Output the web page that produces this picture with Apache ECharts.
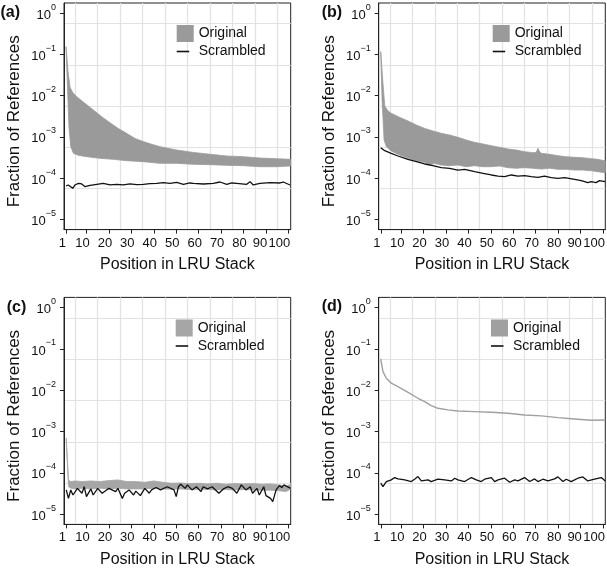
<!DOCTYPE html>
<html><head><meta charset="utf-8">
<script src="https://cdn.jsdelivr.net/npm/echarts@6/dist/echarts.min.js"></script>
<style>html,body{margin:0;padding:0;background:#fff}#c{width:607px;height:568px}</style>
</head><body><div id="c"></div>
<script>
// ---- tick / grid values ----
const xTickValues = [1,10,20,30,40,50,60,70,80,90,100];
const xGridValues = [5,15,25,35,45,55,65,75,85,95];
const yTickValues = [1e-5,1e-4,1e-3,1e-2,1e-1,1];
const yGridValues = [5.623e-5,5.623e-4,5.623e-3,5.623e-2,0.5623];
const panelLabels = ['(a)','(b)','(c)','(d)'];
const seriesNames = ['Original','Scrambled'];
const xTitle = 'Position in LRU Stack';
const yTitle = 'Fraction of References';

// ---- panel (a) ----
const aOrigUpper = [[0.9,0.155],[1.8,0.0383],[2.7,0.016],[3.9,0.0119],[5.6,0.0095],[9.4,0.0065],[13.1,0.0045],[16.8,0.0031],[20.5,0.0022],[24.2,0.0016],[27.9,0.00122],[31.6,9.2e-4],[35.3,7.7e-4],[39.1,6.6e-4],[42.8,5.8e-4],[50.2,4.8e-4],[57.6,4.2e-4],[65,3.8e-4],[72.5,3.44e-4],[79.9,3.31e-4],[87.3,3.07e-4],[94.7,2.96e-4],[100.9,2.85e-4]];
const aOrigLower = [[0.9,0.155],[1.5,0.02],[2.2,1.77e-3],[3.0,5.8e-4],[4.2,4.0e-4],[6.4,3.57e-4],[10.1,3.31e-4],[16,3.02e-4],[22,2.85e-4],[27.9,2.65e-4],[35.3,2.51e-4],[42.8,2.28e-4],[50.2,2.28e-4],[57.6,2.16e-4],[65,2.12e-4],[72.5,2.04e-4],[79.9,2.0e-4],[87.3,1.89e-4],[94.7,1.89e-4],[100.9,1.97e-4]];
const aScrambled = [[0.9,6.43e-5],[1.9,6.81e-5],[2.7,6.19e-5],[3.9,5.65e-5],[4.9,6.81e-5],[6.4,7.47e-5],[7.9,7.2e-5],[9.4,6.19e-5],[11.6,6.68e-5],[14.6,7.07e-5],[17.5,7.47e-5],[20.5,6.81e-5],[23.5,7.07e-5],[26.4,6.81e-5],[29.4,7.2e-5],[32.4,6.94e-5],[35.3,7.07e-5],[38.3,7.33e-5],[41.3,7.47e-5],[44.3,7.75e-5],[47.2,7.47e-5],[50.2,7.89e-5],[53.2,7.07e-5],[56.1,7.61e-5],[57.6,7.47e-5],[62.1,7.2e-5],[66.5,7.47e-5],[69.5,8.04e-5],[72.5,7.07e-5],[74.7,7.61e-5],[76.9,7.47e-5],[81.4,7.07e-5],[82.9,8.19e-5],[84.3,6.81e-5],[87.3,7.47e-5],[91.8,7.75e-5],[96.2,7.61e-5],[97.7,8.04e-5],[100.7,6.81e-5]];

// ---- panel (b) ----
const bOrigUpper = [[0.9,0.117],[1.9,0.020],[2.7,5.62e-3],[4.1,4.33e-3],[5.6,3.73e-3],[9.3,2.99e-3],[13.1,2.43e-3],[16.8,1.94e-3],[20.5,1.61e-3],[24.2,1.39e-3],[27.9,1.22e-3],[31.6,1.11e-3],[35.3,9.77e-4],[39,8.41e-4],[42.7,7.38e-4],[46.5,6.73e-4],[50.2,6.12e-4],[53.9,5.58e-4],[57.6,5.08e-4],[61.3,4.81e-4],[65,4.38e-4],[68.7,4.14e-4],[70.2,4.2e-4],[71,5.3e-4],[71.8,4.3e-4],[72.5,3.99e-4],[76.2,3.78e-4],[79.9,3.5e-4],[83.6,3.31e-4],[87.3,3.19e-4],[91,3.13e-4],[94.7,2.96e-4],[97.7,2.85e-4],[101,2.6e-4]];
const bOrigLower = [[0.9,0.117],[1.5,7.86e-3],[2.4,8.41e-4],[3.4,5.79e-4],[5.6,4.55e-4],[9.3,3.64e-4],[13.1,3.02e-4],[16.8,2.65e-4],[20.5,2.41e-4],[22.7,2.08e-4],[24.9,2.28e-4],[27.9,2.08e-4],[31.6,2.0e-4],[35.3,2.08e-4],[39,1.89e-4],[42.7,2.0e-4],[46.5,1.89e-4],[50.2,1.89e-4],[53.9,1.97e-4],[57.6,1.79e-4],[61.3,1.73e-4],[65,1.79e-4],[68.7,1.73e-4],[72.5,1.66e-4],[76.2,1.73e-4],[79.9,1.63e-4],[83.6,1.63e-4],[87.3,1.57e-4],[91,1.57e-4],[94.7,1.51e-4],[97.7,1.43e-4],[101,1.35e-4]];
const bScrambled = [[0.9,5.48e-4],[2.7,4.63e-4],[5.6,3.99e-4],[8.6,3.44e-4],[13,2.85e-4],[16.8,2.51e-4],[20.5,2.2e-4],[24.2,2.0e-4],[27.9,1.79e-4],[31.6,1.73e-4],[35.3,1.57e-4],[38.3,1.63e-4],[42.8,1.43e-4],[46.5,1.31e-4],[50.2,1.19e-4],[53.2,1.12e-4],[56.1,1.08e-4],[59.1,1.19e-4],[62.1,1.12e-4],[65,1.15e-4],[68,1.08e-4],[71,1.04e-4],[73.9,1.12e-4],[76.9,1.03e-4],[79.9,9.87e-5],[82.9,1.03e-4],[87.3,9.33e-5],[90.3,8.66e-5],[93.2,7.75e-5],[94.7,8.19e-5],[96.9,7.75e-5],[98.4,8.66e-5],[100.9,8.19e-5]];

// ---- panel (c) ----
const cOrigUpper = [[1,7.0e-4],[2,6.73e-5],[3,6.14e-5],[5,6.37e-5],[8,6.14e-5],[12,6.37e-5],[16,6.14e-5],[20,6.48e-5],[24,6.73e-5],[28,6.14e-5],[32,6.14e-5],[36,5.91e-5],[40,6.37e-5],[44,5.91e-5],[48,5.59e-5],[52,5.69e-5],[56,5.48e-5],[60,5.59e-5],[64,5.38e-5],[68,5.59e-5],[72,5.28e-5],[76,5.48e-5],[80,5.38e-5],[84,5.48e-5],[88,5.28e-5],[92,5.38e-5],[96,5.09e-5],[99,4.64e-5],[101,5.28e-5]];
const cOrigLower = [[1,5.7e-4],[2,4.64e-5],[3,4.23e-5],[5,4.07e-5],[8,4.23e-5],[12,4.07e-5],[16,4.23e-5],[20,4.07e-5],[24,4.23e-5],[28,4.07e-5],[32,4.07e-5],[36,4.07e-5],[40,4.23e-5],[44,4.07e-5],[48,4.0e-5],[52,4.07e-5],[56,3.93e-5],[60,4.0e-5],[64,3.93e-5],[68,3.85e-5],[72,3.93e-5],[76,3.85e-5],[80,3.93e-5],[84,3.85e-5],[88,3.78e-5],[92,3.78e-5],[96,3.65e-5],[99,3.51e-5],[101,4.07e-5]];
const cScrambled = [[1,3.85e-5],[2,2.4e-5],[3,3.85e-5],[4,2.9e-5],[6,4.2e-5],[8,3.2e-5],[9,4.6e-5],[10,2.65e-5],[12,4.07e-5],[13,2.9e-5],[15,4.2e-5],[17,3.2e-5],[19,3.85e-5],[20,4.2e-5],[23,3.5e-5],[24,4.2e-5],[26,2.4e-5],[27,3.2e-5],[29,3.85e-5],[31,2.9e-5],[32,3.6e-5],[34,2.8e-5],[36,4.2e-5],[38,3.2e-5],[39,3.85e-5],[41,4.4e-5],[43,3.85e-5],[46,4.6e-5],[49,3.85e-5],[50,2.65e-5],[51,4.6e-5],[52,5.3e-5],[54,4.2e-5],[55,5.1e-5],[57,3.85e-5],[59,4.6e-5],[61,3.5e-5],[62,4.6e-5],[64,4.07e-5],[66,4.6e-5],[69,3.2e-5],[71,4.07e-5],[73,4.6e-5],[75,4.2e-5],[77,3.2e-5],[79,5.1e-5],[81,3.85e-5],[83,4.6e-5],[84,3.2e-5],[86,4.2e-5],[87,2.9e-5],[89,4.6e-5],[90,2.8e-5],[92,2.4e-5],[93,2.0e-5],[94.5,3.85e-5],[96,4.9e-5],[97,4.4e-5],[98,5.1e-5],[101,4.2e-5]];

// ---- panel (d) ----
const dOriginal = [[0.9,0.0573],[1.9,0.0283],[3.4,0.0195],[5.6,0.0148],[8.6,0.01225],[13.1,0.00893],[17.5,0.0064],[20.5,0.0053],[23.4,0.00425],[26.4,0.00366],[30.9,0.00334],[35.3,0.00315],[42.7,0.00304],[50.2,0.00293],[57.6,0.00277],[65,0.00252],[72.5,0.00239],[79.9,0.00217],[87.3,0.00202],[94.7,0.00188],[101,0.0019]];
const dScrambled = [[0.9,5.59e-5],[1.9,4.64e-5],[3.4,6.14e-5],[5.6,6.73e-5],[7.1,7.67e-5],[8.6,7.12e-5],[11.6,6.73e-5],[14.5,6.14e-5],[16,6.99e-5],[17.5,8.1e-5],[19,6.37e-5],[22,6.73e-5],[23.4,6.14e-5],[26.4,6.99e-5],[29.4,6.73e-5],[32.4,6.37e-5],[33.9,7.39e-5],[35.3,6.73e-5],[38.3,6.14e-5],[41.3,7.67e-5],[43.5,6.73e-5],[45.7,6.14e-5],[47.2,6.99e-5],[50.2,7.67e-5],[51.7,6.14e-5],[53.2,6.73e-5],[56.1,7.39e-5],[58.4,5.91e-5],[60.6,6.73e-5],[62.1,6.37e-5],[65,7.67e-5],[67.3,6.14e-5],[69.5,7.12e-5],[71,6.14e-5],[73.2,6.99e-5],[75.4,6.37e-5],[78.4,7.12e-5],[79.9,7.96e-5],[82.1,6.14e-5],[83.6,6.99e-5],[85.8,6.14e-5],[87.3,6.73e-5],[88.8,7.39e-5],[91,7.96e-5],[93.2,6.37e-5],[96.2,6.99e-5],[99.2,7.67e-5],[101,6.37e-5]];

// ---- layout & style ----
const REG = '"Liberation Sans", Arial, Helvetica, sans-serif';
const NARROW = '"Liberation Sans Narrow", "Arial Narrow", "Liberation Sans", sans-serif';
const INK = '#111';
const grids = [
  {left:64, top:3, width:226.7, height:226.6},
  {left:378.7, top:3, width:226.6, height:226.6},
  {left:64, top:297.4, width:226.7, height:227},
  {left:378.7, top:297.4, width:226.6, height:227}
];
const legendPos = [[176.7,25],[492.7,25],[175.7,319.5],[491,319.5]];
const bandColors = ['#9a9a9a','#9a9a9a','#a6a6a6','#a0a0a0'];
const labelPos = [[0.5,12.5],[321.7,13],[6.7,307.5],[321.7,307]];

const panels = [
  {upper:aOrigUpper, lower:aOrigLower, scr:aScrambled},
  {upper:bOrigUpper, lower:bOrigLower, scr:bScrambled},
  {upper:cOrigUpper, lower:cOrigLower, scr:cScrambled},
  {line:dOriginal, scr:dScrambled}
];

const Y_MIN = Math.pow(10,-5.25), Y_MAX = Math.pow(10,0.25);

function supLabel(v){
  const e = Math.round(Math.log10(v));
  return '{b|10}{s|' + (e < 0 ? '\u2212' + (-e) : String(e)) + '}';
}
function xLabel(v){
  const key = v === 100 ? 't100' : (v === 90 ? 't90' : 't');
  return '{' + key + '|' + v + '}';
}
const xRich = {
  t:{fontSize:13, fontFamily:NARROW, color:INK, padding:[0,8,0,0]},
  t90:{fontSize:13, fontFamily:NARROW, color:INK, padding:[0,12,0,0]},
  t100:{fontSize:13, fontFamily:NARROW, color:INK, padding:[0,18,0,0]}
};
const yRich = {
  b:{fontSize:13, fontFamily:REG, color:INK, padding:[4,0,0,0]},
  s:{fontSize:9, fontFamily:REG, color:INK, padding:[0,0,12,0]}
};

const xAxes = [], yAxes = [], series = [], legends = [], graphics = [];
grids.forEach((g, i) => {
  xAxes.push({
    type:'value', gridIndex:i, min:0, max:101, position:'bottom',
    name:xTitle, nameLocation:'middle', nameGap:27, nameMoveOverlap:false,
    nameTextStyle:{fontSize:16, fontFamily:REG, color:INK},
    axisLine:{show:true, lineStyle:{color:'#222', width:1}},
    axisTick:{show:true, length:4, customValues:xTickValues, lineStyle:{color:'#222'}},
    axisLabel:{show:true, customValues:xTickValues, margin:7, formatter:xLabel, rich:xRich},
    splitLine:{show:false}
  });
  xAxes.push({
    type:'value', gridIndex:i, min:0, max:101, position:'bottom',
    axisLine:{show:false}, axisTick:{show:false, customValues:xGridValues},
    axisLabel:{show:false}, splitLine:{show:true, lineStyle:{color:'#e2e2e2', width:1.2}}
  });
  yAxes.push({
    type:'log', logBase:10, gridIndex:i, min:Y_MIN, max:Y_MAX, position:'left',
    name:yTitle, nameLocation:'middle', nameGap:41, nameMoveOverlap:false,
    nameTextStyle:{fontSize:17, fontFamily:REG, color:INK, padding:[0,10,0,0]},
    axisLine:{show:true, lineStyle:{color:'#222', width:1}},
    axisTick:{show:true, length:4, customValues:yTickValues, lineStyle:{color:'#222'}},
    axisLabel:{show:true, customValues:yTickValues, margin:8, formatter:supLabel, rich:yRich},
    splitLine:{show:false}
  });
  yAxes.push({
    type:'log', logBase:10, gridIndex:i, min:Y_MIN, max:Y_MAX, position:'left',
    axisLine:{show:false}, axisTick:{show:false, customValues:yGridValues},
    axisLabel:{show:false}, splitLine:{show:true, lineStyle:{color:'#e2e2e2', width:1.2}}
  });
  const p = panels[i];
  const xi = 2*i, yi = 2*i;
  if (p.upper) {
    const up = p.upper, lo = p.lower;
    series.push({
      type:'custom', name:seriesNames[0], xAxisIndex:xi, yAxisIndex:yi,
      itemStyle:{color:bandColors[i]}, z:3, silent:true,
      data:[up[0]], encode:{x:0, y:1},
      renderItem:function(params, api){
        const pts = up.map(q => api.coord(q)).concat(lo.slice().reverse().map(q => api.coord(q)));
        return {type:'polygon', shape:{points:pts},
          style:{fill:bandColors[i], stroke:bandColors[i], lineWidth:0.8}};
      }
    });
  } else {
    series.push({
      type:'line', name:seriesNames[0], xAxisIndex:xi, yAxisIndex:yi, z:3,
      data:p.line, showSymbol:false, symbol:'none', silent:true,
      itemStyle:{color:bandColors[i]}, lineStyle:{color:bandColors[i], width:1.4}
    });
  }
  series.push({
    type:'line', name:seriesNames[1], xAxisIndex:xi, yAxisIndex:yi, z:4,
    data:p.scr, showSymbol:false, symbol:'none', silent:true,
    itemStyle:{color:INK}, lineStyle:{color:INK, width:1.3}
  });
  legends.push({
    left:legendPos[i][0], top:legendPos[i][1], orient:'vertical',
    itemWidth:17, itemHeight:17, itemGap:1, padding:0, selectedMode:false,
    textStyle:{fontSize:14, fontFamily:NARROW, color:INK},
    data:[
      {name:seriesNames[0], icon:'rect', itemStyle:{color:bandColors[i]}},
      {name:seriesNames[1], icon:'path://M0,0M17,17M0,7.7H12.5V9.3H0Z', itemStyle:{color:INK}}
    ]
  });
  graphics.push({
    type:'text', x:labelPos[i][0], y:labelPos[i][1],
    style:{text:panelLabels[i], fontSize:16, fontWeight:'bold', fontFamily:REG, fill:INK,
      align:'left', verticalAlign:'middle'}
  });
});

const chart = echarts.init(document.getElementById('c'), null, {renderer:'canvas'});
chart.setOption({
  animation:false,
  backgroundColor:'#ffffff',
  grid:grids.map(g => Object.assign({show:true, borderColor:'#222', borderWidth:1,
    backgroundColor:'transparent', containLabel:false, outerBoundsMode:'none'}, g)),
  xAxis:xAxes, yAxis:yAxes, series:series, legend:legends, graphic:graphics
});
</script></body></html>
